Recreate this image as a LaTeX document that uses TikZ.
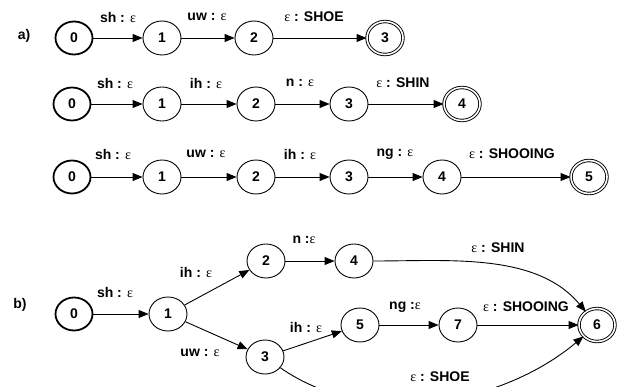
\documentclass[tikz,border=0pt]{standalone}
\usepackage{fontspec}
\setmainfont{Liberation Sans}
\newfontfamily\epsfont{Liberation Serif}
\usetikzlibrary{arrows.meta,shapes.geometric}

% thin serif epsilon used in every transition label
\newcommand\eps{{\epsfont\mdseries ε}}

\begin{document}
\begin{tikzpicture}[x=1pt,y=-1pt,
  state/.style={ellipse, draw, line width=0.9pt, minimum width=38pt,
    minimum height=34pt, inner sep=0pt, font=\bfseries\fontsize{14}{14}\selectfont},
  startstate/.style={state, line width=1.8pt, minimum width=37pt, minimum height=33pt},
  finalstate/.style={state, double, double distance=1.6pt, line width=0.9pt,
    minimum width=36pt, minimum height=33pt},
  lbl/.style={font=\bfseries\fontsize{14}{14}\selectfont, inner sep=0pt},
  tag/.style={font=\bfseries\fontsize{14}{14}\selectfont, inner sep=0pt},
  tr/.style={-{Triangle[length=10pt,width=8pt]}, line width=0.9pt},
]
\useasboundingbox (0,0) rectangle (617,387);

% ---------- a) three linear transducers ----------
\node[tag] (ta) at (24,36) {a)};

% SHOE
\node[startstate] (a0) at (74,38) {0};
\node[state] (a1) at (162,38) {1};
\node[state] (a2) at (254,38) {2};
\node[finalstate] (a3) at (385,38) {3};
\draw[tr] (a0) -- (a1);
\draw[tr] (a1) -- (a2);
\draw[tr] (a2) -- (a3);
\node[lbl] (la1) at (118,17) {sh : \eps};
\node[lbl] (la2) at (207,17) {uw : \eps};
\node[lbl] (la3) at (314,17) {\eps{} : SHOE};

% SHIN
\node[startstate] (c0) at (72,104) {0};
\node[state] (c1) at (162,104) {1};
\node[state] (c2) at (256,104) {2};
\node[state] (c3) at (349,104) {3};
\node[finalstate] (c4) at (462,104) {4};
\draw[tr] (c0) -- (c1);
\draw[tr] (c1) -- (c2);
\draw[tr] (c2) -- (c3);
\draw[tr] (c3) -- (c4);
\node[lbl] (lc1) at (115,83) {sh : \eps};
\node[lbl] (lc2) at (206,83) {ih : \eps};
\node[lbl] (lc3) at (300,83) {n : \eps};
\node[lbl] (lc4) at (403,83) {\eps{} : SHIN};

% SHOOING
\node[startstate] (d0) at (72,177) {0};
\node[state] (d1) at (162,177) {1};
\node[state] (d2) at (256,177) {2};
\node[state] (d3) at (349,177) {3};
\node[state] (d4) at (442,177) {4};
\node[finalstate] (d5) at (589,177) {5};
\draw[tr] (d0) -- (d1);
\draw[tr] (d1) -- (d2);
\draw[tr] (d2) -- (d3);
\draw[tr] (d3) -- (d4);
\draw[tr] (d4) -- (d5);
\node[lbl] (ld1) at (113,154) {sh : \eps};
\node[lbl] (ld2) at (206,154) {uw : \eps};
\node[lbl] (ld3) at (300,154) {ih : \eps};
\node[lbl] (ld4) at (395,154) {ng : \eps};
\node[lbl] (ld5) at (512,154) {\eps{} : SHOOING};

% ---------- b) merged transducer ----------
\node[tag] (tb) at (20,305) {b)};

\node[startstate] (b0) at (74,314) {0};
\node[state] (b1) at (168,314) {1};
\node[state] (b2) at (266,261) {2};
\node[state] (b4) at (354,261) {4};
\node[state] (b3) at (265,357) {3};
\node[state] (b5) at (360,325) {5};
\node[state] (b7) at (458,325) {7};
\node[finalstate] (b6) at (597,325) {6};

\draw[tr] (b0) -- (b1);
\draw[tr] (b1) -- (b2);
\draw[tr] (b1) -- (b3);
\draw[tr] (b2) -- (b4);
\draw[tr] (b3) -- (b5);
\draw[tr] (b5) -- (b7);
\draw[tr] (b7) -- (b6);
\draw[tr] (b4) to[out=0, in=130, looseness=0.9] (b6);
\draw[tr] (b3) to[out=-35, in=-140, looseness=0.9] (b6);

\node[lbl] (lb1) at (115,292) {sh : \eps};
\node[lbl] (lb2) at (196,272) {ih : \eps};
\node[lbl] (lb3) at (200,353) {uw : \eps};
\node[lbl] (lb4) at (304,240) {n :\eps};
\node[lbl] (lb5) at (498,248) {\eps{} : SHIN};
\node[lbl] (lb6) at (306,327) {ih : \eps};
\node[lbl] (lb7) at (405,307) {ng :\eps};
\node[lbl] (lb8) at (526,307) {\eps{} : SHOOING};
\node[lbl] (lb9) at (440,377) {\eps{} : SHOE};
\end{tikzpicture}
\end{document}
